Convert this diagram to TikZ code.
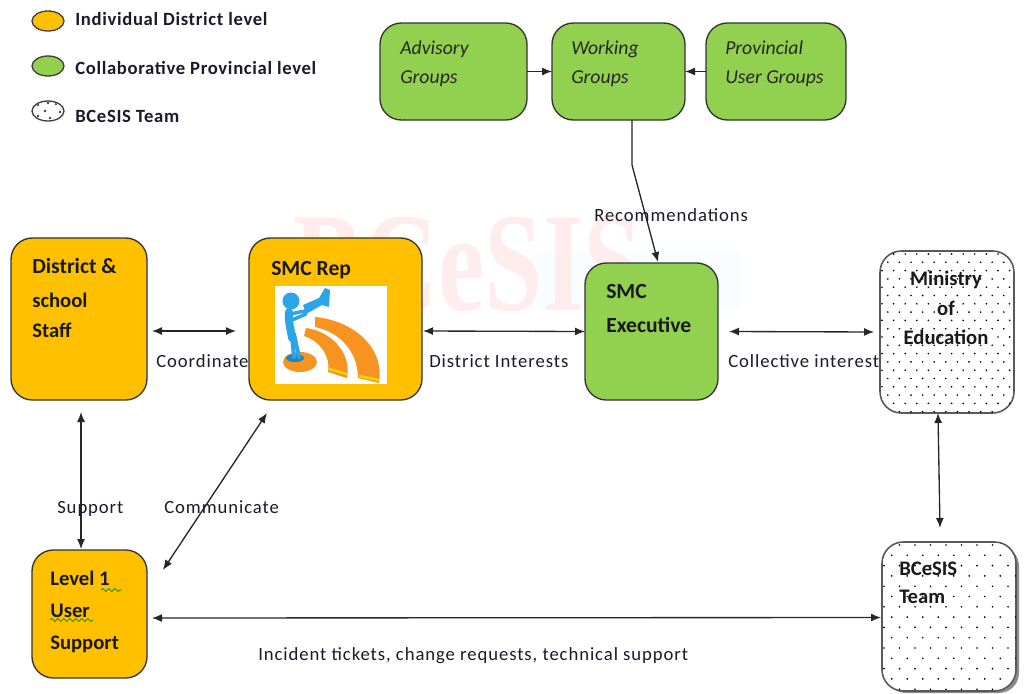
\documentclass[tikz,border=0pt]{standalone}
\usepackage{fontspec}
\setmainfont{Carlito}
\newfontfamily\spaced[LetterSpace=5]{Carlito}
\newfontfamily\spacedb[LetterSpace=3.6]{Carlito Bold}
\newfontfamily\markfont{Liberation Serif}
\usetikzlibrary{calc,arrows.meta,decorations.pathmorphing,shapes.geometric}
\definecolor{orangefill}{HTML}{FFC000}
\definecolor{greenfill}{HTML}{92D050}
\definecolor{inkc}{HTML}{1A1A2A}
\definecolor{artorange}{HTML}{F79320}
\definecolor{artblue}{HTML}{2CA5E8}
\tikzset{
  box/.style={draw=black!80,line width=1pt,rounded corners=16pt,inner sep=0pt,outer sep=0pt},
  orangebox/.style={box,fill=orangefill},
  greenbox/.style={box,fill=greenfill},
  dotbox/.style={box,draw=black!65,line width=1.2pt,fill=white},
  arr/.style={{Latex[length=7.5pt,width=6pt]}-{Latex[length=7.5pt,width=6pt]},line width=1pt,black!85},
  onearr/.style={-{Latex[length=7.5pt,width=6pt]},line width=1pt,black!85},
  head/.style={anchor=base west,inner sep=0pt,font=\fontsize{15.5}{18}\selectfont\bfseries,text=black!90},
  bighead/.style={head,font=\fontsize{16.2}{18}\selectfont\bfseries},
  green text/.style={anchor=base west,inner sep=0pt,font=\fontsize{14.8}{17}\selectfont\itshape,text=black!85},
  legendtext/.style={anchor=base west,inner sep=0pt,font=\spacedb\fontsize{14}{16}\selectfont,text=inkc},
  lab/.style={anchor=base west,inner sep=0pt,font=\spaced\fontsize{14}{16}\selectfont,text=inkc},
  legend oval/.style={draw=black!75,line width=1pt,ellipse,minimum width=24pt,minimum height=15pt,inner sep=0pt},
  squig/.style={draw=green!55!black,line width=.6pt,decorate,decoration={snake,amplitude=1.1pt,segment length=4.5pt}},
}
\newcommand{\rbox}[6]{\node[#6,minimum width={(#4-#2)*.75pt},minimum height={(#5-#3)*.75pt}] (#1) at ({(#2+#4)/2},{(#3+#5)/2}) {};}
\newcommand{\dotsin}[7]{% x1 y1 x2 y2 dx dy radius
  \begin{scope}
  \clip[rounded corners=15pt] (#1,#2) rectangle (#3,#4);
  \pgfmathtruncatemacro{\nrows}{(#4-#2)/#6}
  \pgfmathtruncatemacro{\ncols}{(#3-#1)/#5+1}
  \foreach \r in {0,...,\nrows}{
    \foreach \c in {0,...,\ncols}{
      \pgfmathsetmacro{\shift}{mod(\r,2)*#5/2}
      \fill[black] ({#1+2+\c*#5+\shift},{#2+3+\r*#6}) circle (#7);
    }
  }
  \end{scope}}
\begin{document}
\begin{tikzpicture}[x=.75pt,y=-.75pt]
\useasboundingbox (0,0) rectangle (1025,693);
% watermark
\fill[blue!30!cyan!2] (530,250) rectangle (740,310);
\node[anchor=base west,inner sep=0pt,xscale=.74,font=\markfont\bfseries\fontsize{106}{110}\selectfont,text=red!7] (mark) at (293,310) {BCeSIS};
% legend
\node[legend oval,fill=orangefill] (lega) at (48,21) {};
\node[legend oval,fill=greenfill] (legb) at (48,66) {};
\node[legend oval,fill=white] (legc) at (48,111) {};
\begin{scope}
\clip (48,111) ellipse (15 and 9);
\foreach \p/\q in {45/111,38/105,56/104,60/112,38/116,50/118,62/117,48/103}{\fill[black!75] (\p,\q) circle (1pt);}
\end{scope}
\node[legendtext] (legta) at (75,25) {Individual District level};
\node[legendtext] (legtb) at (75,74) {Collaborative Provincial level};
\node[legendtext] (legtc) at (75,122) {BCeSIS Team};
% top boxes
\rbox{advisory}{380}{23}{527}{120}{greenbox}
\rbox{working}{552}{23}{685}{120}{greenbox}
\rbox{provincial}{706}{23}{846}{120}{greenbox}
\node[green text] (t1a) at (400,54) {Advisory};
\node[green text] (t1b) at (400,83) {Groups};
\node[green text] (t2a) at (571,54) {Working};
\node[green text] (t2b) at (571,83) {Groups};
\node[green text] (t3a) at (725,54) {Provincial};
\node[green text] (t3b) at (725,83) {User Groups};
% middle boxes
\rbox{district}{11}{238}{147}{400}{orangebox}
\rbox{smcrep}{249}{238}{422}{400}{orangebox}
\rbox{exec}{585}{263}{718}{400}{greenbox}
\rbox{ministry}{880}{251}{1014}{413}{dotbox}
\dotsin{880}{251}{1014}{413}{11.6}{8.3}{.7pt}
% bottom boxes
\rbox{level}{32}{550}{147}{678}{orangebox}
\fill[black!45,rounded corners=15pt] (886,546) rectangle (1019,693);
\rbox{team}{882}{542}{1016}{691}{dotbox}
\dotsin{882}{542}{1016}{691}{15.5}{10.3}{.7pt}
% box text
\node[bighead] (d1) at (32,273) {District \&};
\node[head] (d2) at (32,307) {school};
\node[head] (d3) at (32,337) {Staff};
\node[bighead] (s1) at (271,275) {SMC Rep};
\node[bighead] (e1) at (606,298) {SMC};
\node[bighead] (e2) at (606,332) {Executive};
\node[head,anchor=base] (m1) at (946,285) {Ministry};
\node[head,anchor=base] (m2) at (946,315) {of};
\node[head,anchor=base] (m3) at (946,344) {Education};
\node[head] (b1) at (899,575) {BCeSIS};
\node[head] (b2) at (899,603) {Team};
\node[head] (l1) at (50,585) {Level 1};
\node[head] (l2) at (50,617) {User};
\node[head] (l3) at (50,649) {Support};
\draw[squig] (101,590) -- (122,590);
\draw[squig] (50,620) -- (93,620);
% clip art
\fill[white] (275,286) rectangle (387,384);
\fill[artorange] (300,362) ellipse (17 and 10);
\fill[artblue!80!black] (295,358) ellipse (9 and 4);
\fill[artorange] (306,328) .. controls (330,331) and (352,352) .. (347,378) -- (328,372) .. controls (331,355) and (318,340) .. (304,336) -- cycle;
\fill[artorange] (315,317) .. controls (350,320) and (385,345) .. (379,383) -- (358,378) .. controls (358,352) and (340,332) .. (315,327) -- cycle;
\draw[yellow!70!orange,line width=2pt] (329,369) -- (347,374);
\draw[yellow!70!orange,line width=2pt] (359,376) -- (379,380);
\fill[artblue] (291,301) circle (8.5);
\draw[artblue,line width=6pt,line cap=round] (289,312) .. controls (288,322) and (291,330) .. (292,338);
\draw[artblue,line width=3pt,line cap=round] (292,336) -- (294,357);
\draw[artblue,line width=3pt,line cap=round] (294,334) -- (299,357);
\draw[artblue,line width=2.6pt,line cap=round] (290,314) -- (305,311);
\draw[artblue,line width=2.6pt,line cap=round] (292,320) -- (306,314);
\fill[artblue] (303,305) -- (319,298) -- (325,288) -- (330,290) -- (329,307) -- (322,305) -- (306,314) -- cycle;
% arrows
\draw[onearr] (advisory.east) -- (working.west);
\draw[onearr] (provincial.west) -- (working.east);
\coordinate (bend) at (632,165);
\draw[onearr] ($(working.south)+(13.5,0)$) -- (bend) -- ($(exec.north)+(6.5,-1)$);
\draw[arr] ($(district.east)+(5,12)$) -- ($(smcrep.west)+(-13,12)$);
\draw[arr] ($(smcrep.east)+(1,12)$) -- ($(exec.west)+(0,0)$);
\draw[arr] ($(exec.east)+(11,0)$) -- ($(ministry.west)+(-6,0)$);
\draw[arr] ($(district.south)+(2,12)$) -- ($(level.north)+(-8.5,-1)$);
\draw[arr] ($(level.east)+(16,-44)$) -- ($(smcrep.south)+(-68.5,13)$);
\draw[arr] ($(ministry.south)+(-9,0)$) -- ($(team.north)+(-9,-14)$);
\draw[arr] ($(level.east)+(5,4)$) -- ($(team.west)+(-1,1)$);
% labels
\node[lab] (lrec) at (594,221) {Recommendations};
\node[lab] (lco) at (156,367) {Coordinate};
\node[lab] (ldi) at (429,367) {District Interests};
\node[lab] (lci) at (728,367) {Collective interest};
\node[lab] (lsu) at (57,513) {Support};
\node[lab] (lcm) at (164,513) {Communicate};
\node[lab] (lin) at (258,660) {Incident tickets, change requests, technical support};
\end{tikzpicture}
\end{document}
